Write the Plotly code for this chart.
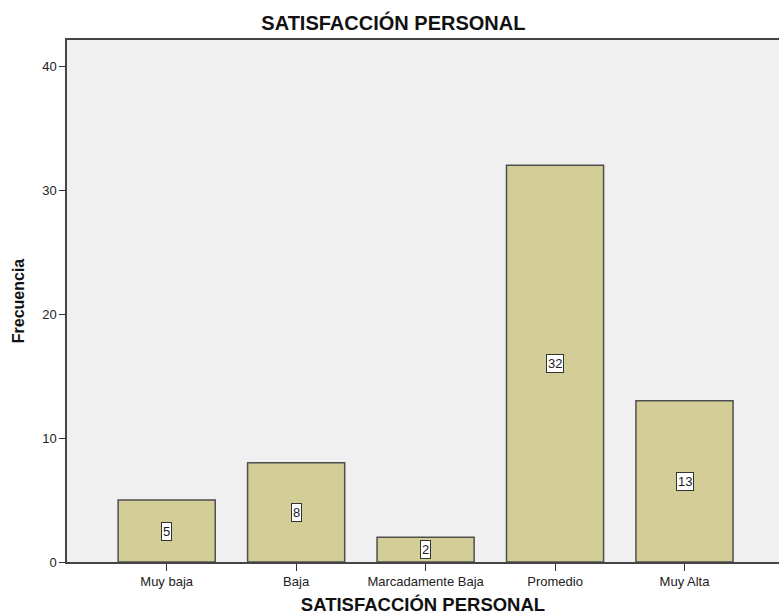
import plotly.graph_objects as go

categories = ["Muy baja", "Baja", "Marcadamente Baja", "Promedio", "Muy Alta"]
frecuencias = [5, 8, 2, 32, 13]
y_ticks = [0, 10, 20, 30, 40]

FONT = "Arial, Liberation Sans, sans-serif"
BAR = "#D3CE98"
EDGE = "#4f4f4f"

fig = go.Figure()
fig.add_trace(go.Bar(
    x=list(range(len(categories))),
    y=frecuencias,
    width=0.75,
    marker=dict(color=BAR, line=dict(color=EDGE, width=1.5)),
    hoverinfo="skip",
))

# value labels in white boxes at the middle of each bar
for i, v in enumerate(frecuencias):
    fig.add_annotation(
        x=i, y=v / 2, text=str(v), showarrow=False,
        font=dict(family=FONT, size=13, color="#222"),
        bgcolor="white", bordercolor="#333", borderwidth=1, borderpad=1,
    )

fig.update_layout(
    width=779, height=616,
    margin=dict(l=67, r=0, t=40, b=54),
    paper_bgcolor="white", plot_bgcolor="#F0F0F0",
    showlegend=False,
    title=dict(text="<b>SATISFACCIÓN PERSONAL</b>", x=0.505, xanchor="center",
               y=0.963, yanchor="middle",
               font=dict(family=FONT, size=20, color="#111")),
    font=dict(family=FONT, size=13, color="#222"),
)
fig.update_xaxes(
    range=[-0.77, 4.73],
    tickmode="array", tickvals=list(range(len(categories))), ticktext=categories,
    ticks="outside", ticklen=7, tickcolor="#333", tickwidth=1,
    showline=True, linecolor="#444", linewidth=1.5, mirror=True,
    showgrid=False, zeroline=False,
    title=dict(text="<b>SATISFACCIÓN PERSONAL</b>", standoff=10,
               font=dict(family=FONT, size=18.5, color="#111")),
)
fig.update_yaxes(
    range=[0, 42.1],
    tickmode="array", tickvals=y_ticks,
    ticks="outside", ticklen=6, tickcolor="#333", tickwidth=1,
    showline=True, linecolor="#444", linewidth=1.5, mirror=False,
    showgrid=False, zeroline=False,
    title=dict(text="<b>Frecuencia</b>", standoff=14,
               font=dict(family=FONT, size=16, color="#111")),
)

fig.write_html("out.html")
